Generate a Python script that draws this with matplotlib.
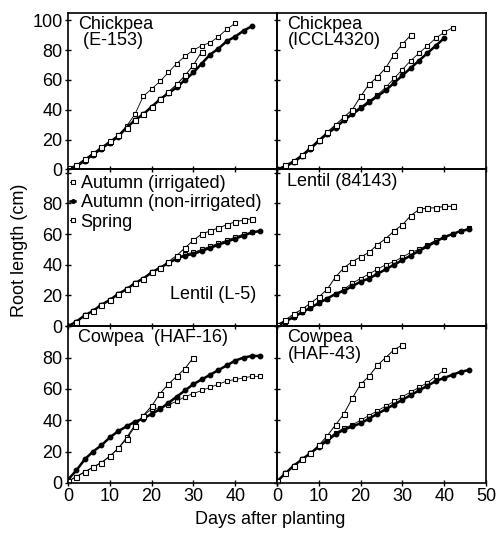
import matplotlib
matplotlib.use('Agg')
import matplotlib.pyplot as plt

plt.rcParams['font.family'] = ['Liberation Sans', 'DejaVu Sans']
plt.rcParams['font.size'] = 13

# sampling days (every 2 days)
days = [0, 2, 4, 6, 8, 10, 12, 14, 16, 18, 20, 22, 24, 26, 28, 30, 32, 34, 36, 38, 40, 42, 44, 46]

# Chickpea (E-153)
e153_irr = [0, 2, 6, 10, 14, 18, 23, 29, 37, 49, 54, 59, 65, 71, 76, 80, 83, 85, 89, 94, 98]
e153_non = [0, 2, 6, 10, 14, 18, 22, 28, 33, 37, 42, 47, 51, 55, 60, 65, 71, 77, 81, 86, 89, 93, 96]
e153_spr = [1, 3, 7, 11, 15, 19, 23, 28, 33, 37, 42, 47, 52, 57, 63, 70, 79]

# Chickpea (ICCL4320)
iccl_irr = [0, 2, 5, 9, 14, 19, 24, 29, 33, 38, 42, 46, 50, 55, 61, 67, 73, 78, 83, 88, 92, 95]
iccl_non = [0, 2, 5, 9, 14, 19, 24, 28, 33, 37, 41, 45, 49, 53, 58, 63, 68, 73, 78, 83, 88]
iccl_spr = [0, 3, 6, 10, 15, 20, 25, 30, 35, 40, 49, 57, 62, 68, 77, 84, 90]

# Lentil (L-5)
l5_irr = [0, 3, 7, 10, 14, 17, 21, 24, 28, 31, 35, 38, 41, 44, 47, 48, 50, 52, 54, 56, 58, 60, 61]
l5_non = [0, 3, 7, 10, 14, 17, 21, 24, 28, 31, 35, 38, 41, 44, 46, 47, 49, 51, 53, 55, 57, 59, 61, 62]
l5_spr = [0, 3, 7, 10, 14, 17, 21, 24, 28, 31, 35, 38, 42, 46, 51, 56, 60, 62, 64, 66, 68, 69, 70]

# Lentil (84143)
l84_irr = [0, 3, 6, 9, 12, 15, 18, 21, 24, 28, 31, 34, 37, 40, 42, 45, 48, 50, 53, 56, 58, 60, 62, 64]
l84_non = [0, 3, 6, 9, 12, 15, 18, 21, 23, 26, 29, 31, 34, 37, 40, 43, 46, 49, 52, 55, 58, 60, 62, 63]
l84_spr = [1, 4, 8, 11, 15, 19, 24, 32, 38, 42, 45, 48, 53, 57, 62, 66, 72, 76, 77, 77, 78, 78]

# Cowpea (HAF-16)
h16_irr = [1, 4, 7, 10, 13, 17, 22, 29, 37, 43, 47, 48, 50, 52, 55, 57, 59, 61, 63, 65, 66, 67, 68, 68]
h16_non = [2, 8, 15, 20, 24, 29, 33, 36, 39, 41, 44, 47, 51, 55, 59, 63, 66, 69, 72, 75, 78, 80, 81, 81]
h16_spr = [1, 4, 7, 10, 13, 17, 22, 28, 36, 43, 49, 57, 63, 68, 73, 80]

# Cowpea (HAF-43)
h43_irr = [1, 6, 11, 15, 19, 24, 28, 32, 35, 37, 40, 43, 46, 49, 52, 55, 58, 61, 64, 68, 72]
h43_non = [1, 6, 11, 15, 19, 23, 27, 31, 34, 36, 38, 41, 44, 47, 50, 53, 56, 59, 62, 65, 67, 69, 71, 72]
h43_spr = [1, 6, 11, 15, 19, 24, 30, 37, 44, 54, 63, 68, 75, 80, 85, 88]

panels = [
    ('Chickpea\n (E-153)', e153_irr, e153_non, e153_spr),
    ('Chickpea\n(ICCL4320)', iccl_irr, iccl_non, iccl_spr),
    ('Lentil (L-5)', l5_irr, l5_non, l5_spr),
    ('Lentil (84143)', l84_irr, l84_non, l84_spr),
    ('Cowpea  (HAF-16)', h16_irr, h16_non, h16_spr),
    ('Cowpea\n(HAF-43)', h43_irr, h43_non, h43_spr),
]
ytops = [105, 102, 100]


def draw(ax, irr, non, spr):
    ax.plot(days[:len(irr)], irr, color='k', lw=0.6, marker='s', ms=3.0,
            mfc='white', mec='k', mew=0.8, label='Autumn (irrigated)')
    ax.plot(days[:len(non)], non, color='k', lw=1.8, marker='o', ms=3.2,
            mfc='k', mec='k', label='Autumn (non-irrigated)')
    ax.plot(days[:len(spr)], spr, color='k', lw=0.7, marker='s', ms=3.6,
            mfc='white', mec='k', mew=0.8, label='Spring')


fig = plt.figure(figsize=(5, 5.33), dpi=100)
gs = fig.add_gridspec(3, 2, left=0.136, right=0.972, top=0.976, bottom=0.094,
                      wspace=0, hspace=0)

for i, (title, irr, non, spr) in enumerate(panels):
    r, c = divmod(i, 2)
    ax = fig.add_subplot(gs[r, c])
    ax.set_facecolor('none')
    draw(ax, irr, non, spr)
    ax.set_xlim(0, 50)
    ax.set_ylim(0, ytops[r])
    ax.set_xticks([0, 10, 20, 30, 40, 50])
    ax.set_yticks([0, 20, 40, 60, 80, 100])
    ax.tick_params(direction='inout', length=4, width=1, pad=2)
    for s in ax.spines.values():
        s.set_linewidth(1.2)

    if c == 1:
        ax.set_yticklabels([])
    elif r > 0:
        ax.set_yticklabels(['0', '20', '40', '60', '80', ''])
    if r < 2:
        ax.set_xticklabels([])
    elif c == 0:
        ax.set_xticklabels(['0', '10', '20', '30', '40', ''])

    if title == 'Lentil (L-5)':
        ax.text(0.49, 0.2, title, transform=ax.transAxes, ha='left', va='center')
        ax.legend(loc='upper left', bbox_to_anchor=(0.0, 0.975), frameon=False,
                  handlelength=0.3, handletextpad=0.3, labelspacing=0.12,
                  borderpad=0.1, borderaxespad=0, markerscale=0.8)
    else:
        ax.text(0.05, 0.98, title, transform=ax.transAxes, ha='left', va='top',
                linespacing=0.95)

fig.text(0.04, 0.53, 'Root length (cm)', rotation=90, ha='center', va='center')
fig.text(0.54, 0.025, 'Days after planting', ha='center', va='center')

fig.savefig('out.png', dpi=100)
